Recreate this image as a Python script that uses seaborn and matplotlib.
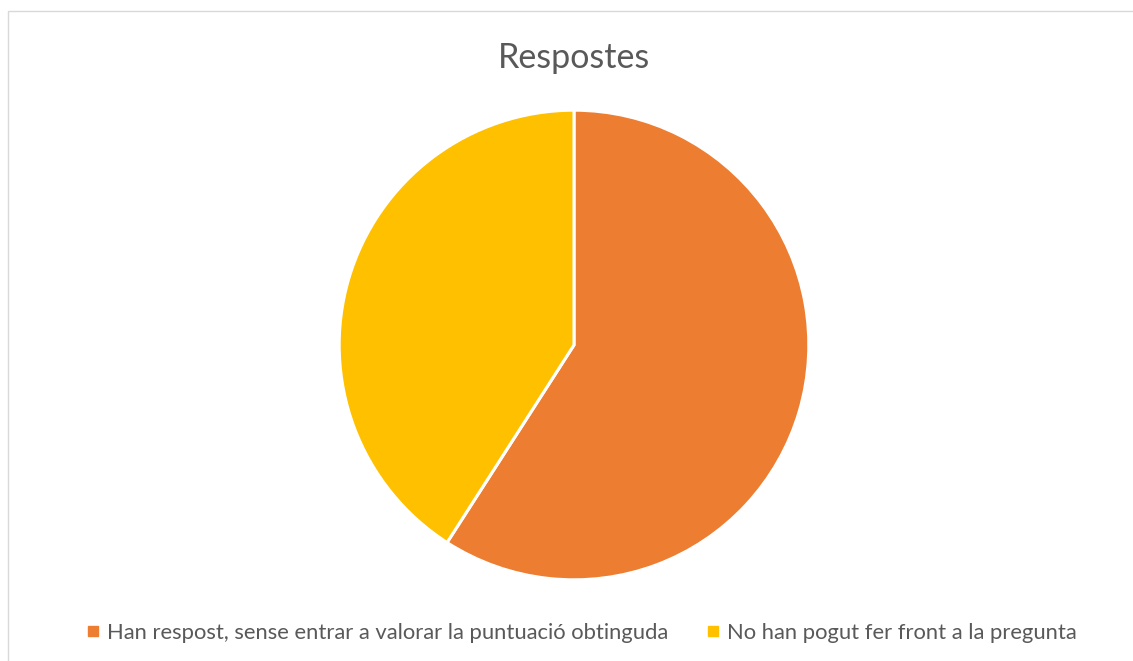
import matplotlib
matplotlib.use("Agg")
import matplotlib.pyplot as plt
import seaborn as sns
from matplotlib.patches import Rectangle
from matplotlib.lines import Line2D

labels = ["Han respost, sense entrar a valorar la puntuació obtinguda",
          "No han pogut fer front a la pregunta"]
values = [13, 9]
colors = ["#ED7D31", "#FFC000"]

sns.set_theme(style="white")
plt.rcParams['font.family'] = ['Lato', 'DejaVu Sans']

W, H = 1133, 661
fig = plt.figure(figsize=(W / 100, H / 100), dpi=100)

# light frame like the office chart area
fig.patches.append(Rectangle((8 / W, -0.01), 1.0, 1 - 11 / H + 0.01,
                             transform=fig.transFigure, fill=False,
                             edgecolor="#D9D9D9", linewidth=1))

cx, cy, r = 574, 345, 236
ax = fig.add_axes([(cx - r) / W, (H - cy - r) / H, 2 * r / W, 2 * r / H])
ax.pie(values, colors=colors, startangle=90, counterclock=False,
       wedgeprops=dict(edgecolor="white", linewidth=2.2), radius=0.995)
ax.set_xlim(-1, 1)
ax.set_ylim(-1, 1)
ax.set_aspect("equal")
ax.axis("off")

fig.text(cx / W, 1 - 58 / H, "Respostes", ha="center", va="center",
         fontsize=24.5, color="#595959")

handles = [Line2D([], [], marker="s", linestyle="none", markersize=7,
                  markerfacecolor=c, markeredgecolor=c) for c in colors]
fig.legend(handles, labels, loc="center", bbox_to_anchor=(581 / W, 1 - 633 / H),
           ncol=2, frameon=False, fontsize=15.8, labelcolor="#595959",
           handletextpad=0.3, columnspacing=1.65, handlelength=0.7)

fig.savefig("out.png", dpi=100)
